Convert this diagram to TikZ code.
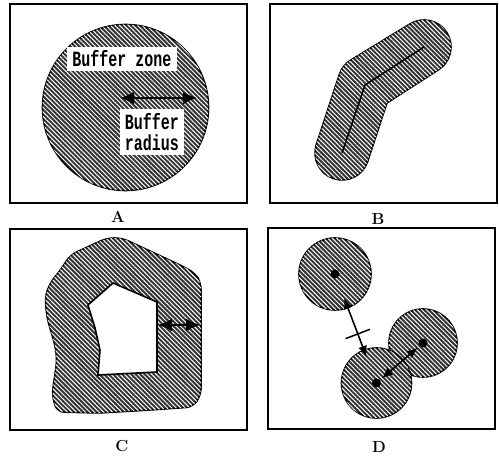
\documentclass[tikz,border=0pt]{standalone}
\usepackage{fontspec}
\newfontfamily\bufmono{Liberation Mono}
\usetikzlibrary{arrows.meta,patterns.meta,calc}
\newcommand{\tallbox}[1]{\scalebox{1}[1.45]{#1}}

\begin{document}
\begin{tikzpicture}[x=1pt,y=1pt,
panelbox/.style={draw,line width=1.3pt},
zone/.style={draw,line width=1.6pt,fill=black!80,
  postaction={pattern={Lines[angle=-45,distance=3.2pt,line width=1pt]},pattern color=white}},
hole/.style={draw,line width=1.6pt,fill=white},
tag/.style={fill=white,inner xsep=5pt,inner ysep=4pt,align=center,
  font=\bufmono\bfseries\fontsize{15}{21}\selectfont},
caption/.style={font=\bfseries\fontsize{16}{18}\selectfont},
bufarrow/.style={{Latex[length=14pt,width=13pt]}-{Latex[length=14pt,width=13pt]},line width=2.4pt},
gaparrow/.style={{Latex[length=11pt,width=9pt]}-{Latex[length=11pt,width=9pt]},line width=1.6pt}]
\useasboundingbox (0,0) rectangle (499,458);
% panel frames
\draw[panelbox] (10,255) rectangle (247,454);
\draw[panelbox] (270,255) rectangle (497,454);
\draw[panelbox] (10,28) rectangle (247,229);
\draw[panelbox] (268,29) rectangle (495,230);
% A: point buffer
\coordinate (ca) at (125.5,350.5);
\draw[zone] (ca) circle[radius=83];
\node[tag] (zonelbl) at (122,399) {\tallbox{Buffer zone}};
\coordinate (ra) at (120,360);
\coordinate (rb) at (197,360);
\draw[bufarrow] (ra) -- (rb);
\node[tag] (radlbl) at (152,326) {\tallbox{Buffer}\\\tallbox{radius}};
% B: line buffer
\coordinate (b1) at (342,305);
\coordinate (b2) at (365,373);
\coordinate (b3) at (424,411);
\draw[zone] (316.3,313.4) -- (339.3,383.4) arc[start angle=161.8,end angle=122.8,radius=27]
  -- (409.4,433.7) arc[start angle=122.8,end angle=-57.2,radius=27]
  -- (386.9,355.0) -- (367.7,296.6) arc[start angle=-18.2,end angle=-198.2,radius=27] -- cycle;
\draw[line width=1.5pt] (b1) -- (b2) -- (b3);
% C: polygon buffer
\draw[zone,rounded corners=7pt] (107,220) -- (122,220) -- (180,193) -- (195,185) -- (201,175)
  -- (201,63) -- (193,51) -- (150,48) -- (100,45) -- (57,46) -- (52,63) -- (57,98)
  -- (55,113) -- (47,140) -- (45,161) -- (50,175) -- (62,190) -- (70,203) -- cycle;
\draw[hole] (88,153) -- (113,175) -- (157,156) -- (157,86) -- (98,83) -- (100,108) -- (95,130) -- cycle;
\coordinate (ea) at (158,133);
\coordinate (eb) at (200,133);
\draw[bufarrow] (ea) -- (eb);
% D: point buffers, distances
\coordinate (d1) at (335,184);
\coordinate (d2) at (423,115);
\coordinate (d3) at (376.5,75);
\draw[zone] (d1) circle[radius=36];
\draw[zone] (d2) circle[radius=34];
\draw[zone] (d3) circle[radius=35];
\coordinate (g1) at ($(d1)!0.22!(d3)$);
\coordinate (g2) at ($(d1)!0.76!(d3)$);
\coordinate (tm) at ($(d1)!0.55!(d3)$);
\draw[gaparrow] (g1) -- (g2);
\draw[line width=1.5pt] ($(tm)!13pt!90:(d3)$) -- ($(tm)!13pt!-90:(d3)$);
\draw[gaparrow,shorten <=7pt,shorten >=7pt] (d3) -- (d2);
\fill (d1) circle[radius=4.5];
\fill (d2) circle[radius=4.5];
\fill (d3) circle[radius=4.5];
% captions
\node[caption] (capA) at (118,241) {A};
\node[caption] (capB) at (378,239) {B};
\node[caption] (capC) at (122,12) {C};
\node[caption] (capD) at (379,11) {D};
\end{tikzpicture}
\end{document}
